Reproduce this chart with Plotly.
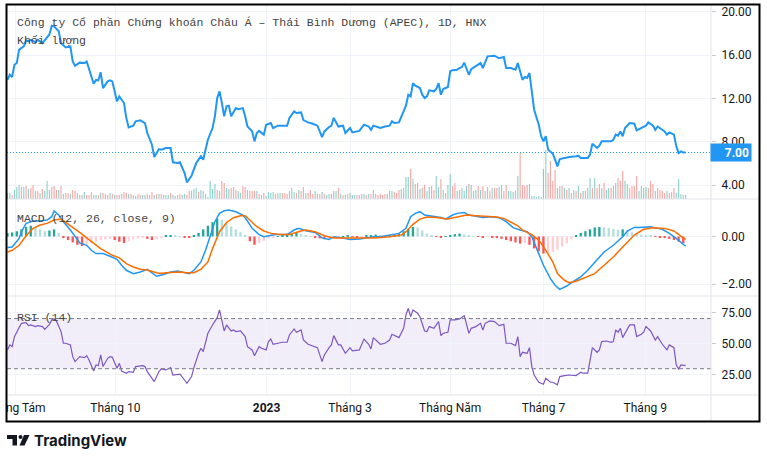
import plotly.graph_objects as go

# ---- values ----
# x positions are trading-session numbers (0 = first bar shown, late July 2022)
title_text = "Công ty Cổ phần Chứng khoán Châu Á – Thái Bình Dương (APEC), 1D, HNX"
volume_label = "Khối lượng"
macd_label = "MACD (12, 26, close, 9)"
rsi_label = "RSI (14)"
brand = "TradingView"

month_sess = [3.5, 46.3, 111.2, 147, 190, 230, 273.7]
month_labels = ["Tháng Tám", "Tháng 10", "<b>2023</b>", "Tháng 3", "Tháng Năm", "Tháng 7", "Tháng 9"]

price_ticks = [4, 8, 12, 16, 20]
macd_ticks = [-2, 0]
rsi_ticks = [25, 50, 75]
rsi_band = [30, 70]

price_sess = [
    0, 1, 2, 3, 4, 5, 7, 8, 9, 10,
    12, 13, 15, 16, 18, 19, 20, 22, 23, 25,
    27, 28, 29, 31, 33, 34, 35, 37, 38, 39,
    40, 41, 43, 44, 45, 47, 48, 50, 51, 52,
    54, 55, 57, 59, 60, 62, 63, 65, 66, 68,
    70, 71, 73, 74, 76, 77, 79, 81, 83, 84,
    85, 86, 88, 89, 90, 91, 92, 93, 94, 95,
    96, 98, 99, 101, 102, 103, 105, 106, 107, 108,
    110, 111, 113, 114, 116, 118, 120, 121, 123, 124,
    126, 127, 129, 131, 133, 135, 136, 138, 139, 140,
    142, 144, 145, 147, 148, 151, 153, 155, 156, 157,
    160, 162, 164, 165, 166, 168, 169, 171, 172, 173,
    174, 175, 177, 178, 179, 180, 181, 183, 184, 185,
    186, 187, 189, 190, 191, 193, 194, 195, 196, 198,
    199, 201, 203, 204, 205, 206, 209, 211, 213, 214,
    216, 218, 219, 221, 222, 223, 224, 225, 226, 228,
    229, 230, 231, 232, 234, 235, 236, 237, 239, 241,
    244, 245, 246, 249, 250, 251, 253, 254, 255, 257,
    259, 260, 261, 262, 263, 264, 265, 267, 269, 270,
    272, 274, 275, 277, 278, 279, 281, 282, 283, 284,
    286, 287, 288, 289, 290, 291,
]
price_close = [
    13.72, 14.18, 13.97, 15.1, 15.26, 16.5, 16.8, 17.35, 17.26, 17.4,
    17.2, 17.4, 17.1, 17.4, 17.9, 18.7, 18.65, 18.2, 17.1, 16.7,
    16.8, 15.4, 15.0, 15.3, 15.26, 15.4, 14.65, 13.35, 13.7, 13.66,
    14.4, 12.95, 13.57, 13.66, 13.57, 11.72, 12.18, 11.57, 10.2, 9.32,
    9.48, 9.88, 9.97, 9.72, 8.8, 7.72, 6.58, 7.32, 7.26, 7.42,
    7.42, 6.1, 6.03, 6.1, 5.1, 4.25, 4.86, 6.03, 6.65, 6.34,
    7.26, 8.18, 9.26, 10.34, 12.03, 12.65, 11.57, 10.34, 11.26, 11.32,
    10.34, 11.1, 11.0, 11.1, 10.34, 9.4, 8.95, 8.03, 8.8, 9.0,
    8.65, 9.57, 9.72, 9.26, 9.48, 9.48, 9.48, 10.2, 10.8, 10.65,
    10.7, 10.0, 9.78, 9.66, 9.48, 8.43, 8.95, 9.35, 9.48, 10.2,
    9.4, 9.48, 8.8, 9.26, 8.86, 9.0, 9.57, 9.4, 9.1, 9.48,
    9.26, 9.4, 9.48, 9.88, 9.72, 9.78, 10.34, 11.32, 12.34, 12.18,
    13.4, 13.17, 12.95, 12.34, 12.03, 12.18, 12.74, 12.65, 12.86, 13.4,
    12.34, 12.86, 13.05, 14.5, 14.6, 14.65, 14.8, 14.9, 15.3, 14.18,
    14.7, 15.0, 15.26, 14.8, 15.4, 15.88, 15.94, 15.7, 15.82, 14.8,
    14.8, 14.65, 15.26, 13.72, 13.97, 13.88, 14.34, 12.5, 10.95, 9.57,
    8.5, 8.03, 8.5, 7.26, 6.9, 6.34, 5.72, 6.4, 6.5, 6.58,
    6.65, 6.7, 6.5, 6.5, 6.8, 7.82, 7.42, 7.63, 8.03, 8.03,
    8.03, 8.18, 8.65, 8.55, 8.95, 8.5, 9.26, 9.72, 9.66, 9.05,
    9.26, 9.48, 9.78, 9.48, 9.1, 9.4, 9.1, 8.95, 8.65, 8.86,
    8.65, 7.57, 6.95, 7.1, 7.0, 7.0,
]

# one volume bar per session (relative units), with up/down colouring
vol = [
    6, 6, 4, 9, 12, 14, 12, 12, 13, 10,
    11, 14, 8, 8, 6, 10, 8, 18, 9, 12,
    13, 9, 9, 13, 5, 6, 6, 5, 9, 8,
    6, 4, 4, 7, 4, 4, 7, 4, 4, 4,
    6, 6, 5, 4, 6, 5, 4, 4, 4, 5,
    7, 6, 5, 5, 4, 3, 5, 4, 4, 4,
    5, 4, 7, 4, 5, 5, 5, 4, 4, 4,
    6, 4, 3, 4, 5, 4, 5, 4, 8, 8,
    10, 11, 7, 9, 8, 5, 2, 18, 10, 15,
    9, 8, 18, 16, 11, 10, 11, 12, 9, 8,
    6, 13, 12, 9, 8, 8, 8, 8, 5, 4,
    6, 3, 7, 6, 7, 5, 6, 6, 6, 6,
    5, 8, 11, 7, 6, 9, 8, 12, 6, 6,
    9, 5, 8, 5, 5, 7, 5, 4, 5, 5,
    8, 8, 11, 5, 4, 4, 5, 6,
    4, 4, 4, 4, 5, 5, 4, 5, 5, 9,
    5, 4, 5, 4, 5, 5, 8, 8, 7, 6,
    9, 10, 11, 22, 22, 30, 20, 15, 16, 10,
    11, 14, 8, 12, 13, 9, 23, 12, 20, 9,
    6, 14, 25, 13, 16, 8, 9, 11, 8, 13,
    15, 14, 8, 9, 13, 9, 13, 8, 12, 8,
    11, 11, 11, 12, 14, 8, 14, 8, 8, 7,
    8, 23, 46, 14, 13, 14, 15, 3, 3, 2,
    3, 2, 30, 49, 26, 38, 18, 29, 11, 13,
    13, 11, 9, 11, 6, 9, 8, 13, 6, 8,
    8, 11, 21, 11, 21, 11, 15, 11, 16, 9,
    11, 11, 13, 16, 21, 18, 28, 18, 15, 11,
    13, 13, 23, 8, 13, 11, 12, 11, 18, 15,
    8, 11, 9, 8, 6, 8, 6, 7, 11, 6,
    20, 5, 4, 4,
]
vol_dir = (
    "uuduu ududu ddudu duuud ddudu ddudd uduud dduud udddu duddu "
    "ddudu udduu dddud udduu duudd uuddu uuduu uuuuu duddu udddu "
    "uddud ddudu duuuu duudd duuud uddud ddudd uduud uudud udu "
    "uuddu ududu ddddd uuudd duuuu duddu dduud duudu duudd uduuu "
    "duuud ududd udduu dduuu duddd duuuu uuuud ddduu dudud ududu "
    "duudu ddudu uduud dduud ddduu uuddd udddd udddu uuuu"
).replace(" ", "")

macd_sess = [
    0, 2, 5, 6, 8, 11, 14, 17, 19, 20,
    22, 24, 27, 29, 31, 34, 36, 38, 41, 44,
    47, 49, 51, 54, 57, 60, 62, 64, 67, 70,
    73, 75, 78, 80, 83, 85, 87, 89, 91, 93,
    95, 98, 101, 103, 105, 108, 110, 112, 115, 118,
    120, 123, 125, 128, 132, 135, 138, 140, 144, 147,
    151, 154, 157, 160, 164, 168, 171, 173, 175, 177,
    179, 183, 186, 188, 191, 193, 196, 198, 201, 204,
    208, 211, 214, 217, 220, 223, 225, 227, 230, 233,
    235, 237, 240, 243, 246, 249, 253, 256, 260, 264,
    266, 269, 271, 274, 276, 279, 281, 284, 287, 291,
]
macd_line = [
    -0.46, -0.44, -0.08, 0.20, 0.55, 0.65, 0.65, 0.69, 0.83, 1.07,
    0.90, 0.62, 0.27, -0.01, -0.27, -0.37, -0.58, -0.72, -0.72, -0.83,
    -0.96, -1.21, -1.42, -1.56, -1.49, -1.38, -1.52, -1.67, -1.60, -1.49,
    -1.45, -1.49, -1.56, -1.42, -1.07, -0.58, 0.06, 0.62, 0.97, 1.08,
    1.11, 1.04, 0.90, 0.65, 0.34, 0.08, -0.01, 0.03, 0.08, 0.08,
    0.08, 0.27, 0.34, 0.24, 0.17, -0.06, -0.13, -0.01, -0.06, -0.13,
    -0.11, -0.06, -0.01, -0.01, 0.06, 0.13, 0.34, 0.83, 0.97, 1.04,
    0.90, 0.83, 0.80, 0.73, 0.90, 0.97, 1.01, 0.90, 0.86, 0.80,
    0.83, 0.79, 0.62, 0.37, 0.27, 0.20, -0.01, -0.51, -1.21, -1.77,
    -2.05, -2.22, -2.08, -1.88, -1.70, -1.42, -1.00, -0.65, -0.37, -0.01,
    0.23, 0.38, 0.38, 0.38, 0.41, 0.34, 0.30, 0.13, -0.08, -0.41,
]
signal_sess = [
    0, 2, 5, 8, 11, 14, 17, 20, 23, 25,
    28, 31, 34, 37, 40, 43, 45, 48, 51, 54,
    57, 60, 63, 65, 68, 71, 74, 77, 80, 83,
    86, 88, 91, 94, 97, 100, 102, 104, 107, 110,
    113, 117, 121, 126, 128, 132, 136, 140, 144, 148,
    153, 157, 160, 164, 169, 171, 174, 177, 180, 184,
    189, 193, 197, 201, 206, 210, 213, 216, 219, 221,
    225, 228, 231, 234, 236, 239, 241, 244, 247, 252,
    256, 260, 264, 269, 273, 277, 282, 286, 291,
]
signal_line = [
    -0.65, -0.58, -0.37, 0.03, 0.34, 0.48, 0.55, 0.69, 0.73, 0.59,
    0.41, 0.17, -0.06, -0.30, -0.51, -0.68, -0.79, -0.90, -1.14, -1.28,
    -1.38, -1.41, -1.49, -1.55, -1.52, -1.49, -1.49, -1.52, -1.52, -1.38,
    -1.07, -0.51, 0.20, 0.59, 0.79, 0.87, 0.87, 0.69, 0.41, 0.23,
    0.13, 0.08, 0.08, 0.23, 0.27, 0.20, 0.03, -0.06, -0.06, -0.08,
    -0.06, -0.06, -0.04, -0.01, 0.06, 0.20, 0.51, 0.73, 0.82, 0.80,
    0.73, 0.83, 0.90, 0.87, 0.84, 0.82, 0.76, 0.62, 0.45, 0.27,
    0.08, -0.15, -0.58, -1.07, -1.56, -1.84, -1.94, -1.88, -1.77, -1.56,
    -1.21, -0.86, -0.44, 0.06, 0.30, 0.37, 0.34, 0.23, -0.13,
]
# histogram read every second session
hist_sess = list(range(0, 292, 2))
macd_hist = [
    0.15, 0.17, 0.22, 0.30, 0.40, 0.45, 0.40, 0.30, 0.22, 0.25,
    0.30, 0.15, -0.05, -0.15, -0.25, -0.35, -0.40, -0.32, -0.28, -0.22,
    -0.15, -0.12, -0.10, -0.15, -0.22, -0.28, -0.20, -0.12, -0.08, -0.05,
    -0.10, -0.15, -0.12, -0.06, 0.03, 0.06, 0.04, 0.02, -0.03, -0.06,
    0.05, 0.15, 0.30, 0.45, 0.60, 0.75, 0.70, 0.55, 0.42, 0.30,
    0.18, 0.05, -0.20, -0.35, -0.28, -0.18, -0.08, -0.03, 0.02, 0.03,
    0.05, 0.10, 0.15, 0.10, 0.06, 0.02, -0.03, -0.08, -0.12, -0.08,
    -0.05, -0.02, 0.02, 0.03, -0.02, -0.04, -0.03, 0.03, 0.06, 0.08,
    0.05, 0.04, 0.06, 0.08, 0.12, 0.22, 0.32, 0.40, 0.38, 0.25,
    0.12, 0.05, -0.02, -0.03, 0.02, 0.06, 0.10, 0.12, 0.08, 0.04,
    0.02, -0.02, -0.03, -0.02, -0.04, -0.05, -0.10, -0.15, -0.20, -0.25,
    -0.30, -0.28, -0.35, -0.50, -0.62, -0.72, -0.70, -0.65, -0.55, -0.42,
    -0.28, -0.12, 0.05, 0.15, 0.22, 0.30, 0.38, 0.40, 0.38, 0.35,
    0.32, 0.28, 0.30, 0.25, 0.18, 0.10, 0.08, 0.05, 0.03, -0.02,
    -0.05, -0.06, -0.10, -0.15, -0.22, -0.28,
]

rsi_sess = [
    0, 1, 2, 3, 5, 6, 8, 9, 10, 12,
    13, 15, 16, 18, 19, 20, 21, 23, 24, 25,
    27, 28, 29, 31, 33, 34, 35, 37, 38, 39,
    40, 41, 43, 44, 45, 47, 48, 49, 51, 52,
    54, 55, 58, 59, 60, 62, 63, 65, 66, 68,
    70, 71, 73, 74, 76, 77, 79, 80, 82, 83,
    84, 85, 86, 88, 90, 91, 92, 93, 94, 96,
    97, 98, 100, 102, 103, 105, 106, 108, 109, 111,
    112, 113, 114, 116, 118, 120, 121, 123, 124, 126,
    127, 129, 131, 133, 135, 136, 138, 139, 140, 142,
    143, 145, 147, 148, 151, 153, 155, 156, 157, 160,
    162, 164, 165, 167, 168, 170, 171, 172, 173, 174,
    176, 177, 179, 180, 181, 183, 185, 186, 187, 189,
    190, 192, 194, 196, 198, 199, 201, 203, 204, 205,
    207, 209, 211, 213, 214, 216, 218, 219, 220, 221,
    223, 224, 225, 226, 228, 230, 231, 233, 234, 236,
    237, 239, 241, 244, 246, 247, 249, 251, 253, 254,
    255, 257, 259, 260, 261, 262, 263, 264, 266, 267,
    269, 270, 272, 273, 274, 276, 278, 279, 281, 282,
    283, 284, 286, 287, 288, 289, 291,
]
rsi_val = [
    45.0, 49.0, 47.6, 55.6, 62.8, 66.2, 66.8, 64.4, 64.9, 63.6,
    64.4, 63.6, 61.4, 65.4, 68.9, 69.7, 68.1, 59.6, 50.3, 50.3,
    49.0, 39.6, 35.7, 39.6, 38.8, 40.4, 37.0, 28.2, 33.0, 32.5,
    41.0, 31.7, 38.3, 39.6, 39.1, 30.3, 34.3, 28.2, 26.4, 27.7,
    27.2, 31.7, 32.5, 31.7, 27.7, 22.4, 19.7, 27.7, 29.8, 29.0,
    30.9, 25.0, 25.6, 25.6, 21.0, 18.4, 23.7, 30.9, 42.3, 46.3,
    43.6, 51.6, 58.3, 64.9, 70.7, 76.9, 67.6, 60.1, 64.9, 60.1,
    60.9, 59.6, 60.1, 55.6, 47.6, 45.0, 40.4, 47.6, 46.3, 45.0,
    51.6, 53.7, 49.5, 50.3, 51.1, 51.1, 56.9, 61.7, 59.1, 60.9,
    52.9, 49.5, 48.4, 46.8, 35.7, 41.0, 46.8, 49.0, 56.4, 49.0,
    49.0, 42.3, 46.8, 44.2, 45.0, 53.7, 49.5, 45.8, 54.8, 49.5,
    50.3, 52.9, 57.5, 55.6, 54.8, 62.2, 72.9, 78.2, 71.5, 76.9,
    74.2, 71.5, 60.1, 59.6, 63.6, 62.2, 67.6, 56.4, 58.3, 59.1,
    68.9, 68.9, 69.7, 72.3, 58.3, 62.2, 63.6, 66.2, 60.9, 66.2,
    68.1, 67.6, 64.4, 65.4, 50.3, 50.3, 48.4, 55.6, 39.6, 43.1,
    42.3, 46.8, 31.7, 25.0, 19.2, 17.6, 22.4, 19.2, 19.2, 17.1,
    23.7, 24.5, 25.0, 24.5, 27.2, 26.4, 26.4, 46.8, 43.1, 45.0,
    51.6, 52.1, 51.1, 51.6, 60.9, 59.1, 62.2, 54.8, 62.2, 64.9,
    64.9, 55.6, 57.5, 59.1, 63.6, 60.1, 52.9, 55.6, 49.5, 47.6,
    45.0, 49.0, 46.8, 33.0, 29.8, 33.0, 32.5,
]

# ---- layout helpers (pixel positions of the TradingView pane) ----
PL, PR, PT, PB = 7, 711, 5, 395


def px_x(px):
    return (px - PL) / (PR - PL)


def px_y(py):
    return (PB - py) / (PB - PT)


BLUE = "#2196f3"
GRID = "#f0f3fa"
SEP = "#e0e3eb"
TEXT = "#131722"
MONO = "Liberation Mono"

vol_colors = ["rgba(38,166,154,0.5)" if d == "u" else "rgba(239,83,80,0.5)" for d in vol_dir]
hist_colors = []
for i, h in enumerate(macd_hist):
    prev = macd_hist[i - 1] if i else h
    if h >= 0:
        hist_colors.append("#26a69a" if h >= prev else "#b2dfdb")
    else:
        hist_colors.append("#ff5252" if h <= prev else "#ffcdd2")

last_price = price_close[-1]

fig = go.Figure()
fig.add_trace(go.Bar(x=list(range(len(vol))), y=vol, marker_color=vol_colors,
                     marker_line_width=0, width=0.5, yaxis="y"))
fig.add_trace(go.Scatter(x=price_sess, y=price_close, mode="lines",
                         line=dict(color=BLUE, width=2), yaxis="y4"))
fig.add_trace(go.Bar(x=hist_sess, y=macd_hist, marker_color=hist_colors,
                     marker_line_width=0, width=1.0, yaxis="y2"))
fig.add_trace(go.Scatter(x=macd_sess, y=macd_line, mode="lines",
                         line=dict(color=BLUE, width=1.5), yaxis="y2"))
fig.add_trace(go.Scatter(x=signal_sess, y=signal_line, mode="lines",
                         line=dict(color="#ff6d00", width=1.5), yaxis="y2"))
fig.add_trace(go.Scatter(x=rsi_sess, y=rsi_val, mode="lines",
                         line=dict(color="#7e57c2", width=1.2), yaxis="y3"))

yax = dict(side="right", anchor="x", showgrid=True, gridcolor=GRID, gridwidth=1,
           zeroline=False, showline=False, ticks="outside", ticklen=4, automargin=False,
           tickcolor="#c9ccd3", tickformat=".2f", ticklabelstandoff=3,
           tickfont=dict(family="Roboto", size=12, color=TEXT))

d_rsi = px_y(296)
d_macd = px_y(199)

fig.update_layout(
    width=767, height=459,
    margin=dict(l=PL, r=767 - PR, t=PT, b=459 - PB, autoexpand=False),
    paper_bgcolor="white", plot_bgcolor="white",
    showlegend=False, barmode="overlay",
    font=dict(family="Roboto", size=12, color=TEXT),
    xaxis=dict(domain=[0, 1], anchor="y3", range=[-0.2, 301.9], automargin=False,
               tickvals=month_sess, ticktext=month_labels,
               showgrid=True, gridcolor=GRID, zeroline=False, showline=False,
               ticks="", ticklabeloverflow="allow", ticklabelstandoff=4,
               tickfont=dict(family="Roboto", size=12, color=TEXT)),
    yaxis=dict(domain=[d_macd, 1], range=[0, 194], visible=False, automargin=False),
    yaxis4=dict(yax, overlaying="y", range=[2.71, 20.62], tickvals=price_ticks),
    yaxis2=dict(yax, domain=[d_rsi, d_macd], range=[-2.5, 1.574], tickvals=macd_ticks),
    yaxis3=dict(yax, domain=[0, d_rsi], range=[9.03, 88.0], tickvals=rsi_ticks),
)

shapes = [
    dict(type="rect", xref="paper", yref="y3", x0=0, x1=1, y0=rsi_band[0], y1=rsi_band[1],
         fillcolor="rgba(126,87,194,0.1)", line_width=0, layer="below"),
]
for lvl in rsi_band:
    shapes.append(dict(type="line", xref="paper", yref="y3", x0=0, x1=1, y0=lvl, y1=lvl,
                       line=dict(color="#787b86", width=1, dash="4px,3px")))
shapes.append(dict(type="line", xref="paper", yref="y4", x0=0, x1=1, y0=last_price, y1=last_price,
                   line=dict(color=BLUE, width=1, dash="1px,2px")))
for py in (199, 296, 395):
    shapes.append(dict(type="line", xref="paper", yref="paper", x0=px_x(7), x1=px_x(759),
                       y0=px_y(py), y1=px_y(py), line=dict(color=SEP, width=1), layer="above"))
shapes.append(dict(type="line", xref="paper", yref="paper", x0=1, x1=1,
                   y0=px_y(421.5), y1=px_y(4.5), line=dict(color=SEP, width=1), layer="above"))
# hide the part of the first month label that falls outside the pane
shapes.append(dict(type="rect", xref="paper", yref="paper", x0=px_x(-2), x1=px_x(6),
                   y0=px_y(421), y1=px_y(396), fillcolor="white", line_width=0, layer="above"))
# outer frame
shapes.append(dict(type="rect", xref="paper", yref="paper", x0=px_x(6.5), x1=px_x(759.5),
                   y0=px_y(421.5), y1=px_y(4.5), line=dict(color="#000000", width=2),
                   fillcolor="rgba(0,0,0,0)", layer="above"))
# TradingView logo mark
shapes += [
    dict(type="rect", xref="paper", yref="paper", x0=px_x(7), x1=px_x(17), y0=px_y(439),
         y1=px_y(435), fillcolor=TEXT, line_width=0),
    dict(type="rect", xref="paper", yref="paper", x0=px_x(12.5), x1=px_x(17), y0=px_y(445.5),
         y1=px_y(435), fillcolor=TEXT, line_width=0),
    dict(type="circle", xref="paper", yref="paper", x0=px_x(18.5), x1=px_x(22.5), y0=px_y(439),
         y1=px_y(435), fillcolor=TEXT, line_width=0),
    dict(type="path", xref="paper", yref="paper", fillcolor=TEXT, line_width=0,
         path="M {} {} L {} {} L {} {} L {} {} Z".format(
             px_x(24), px_y(435), px_x(29.5), px_y(435),
             px_x(24.5), px_y(445.5), px_x(19.5), px_y(445.5))),
]
fig.update_layout(shapes=shapes)

ann = [
    dict(text=title_text, x=px_x(15), y=px_y(23)),
    dict(text=volume_label, x=px_x(15), y=px_y(40)),
    dict(text=macd_label, x=px_x(15), y=px_y(218.5)),
    dict(text=rsi_label, x=px_x(15), y=px_y(317)),
]
for a in ann:
    a.update(xref="paper", yref="paper", xanchor="left", yanchor="middle", showarrow=False,
             font=dict(family=MONO, size=11.5, color="#444444"))
ann.append(dict(text="<b>{:.2f}</b>".format(last_price), xref="paper", yref="y4", x=px_x(710),
                y=last_price, xanchor="left", yanchor="middle", showarrow=False, bgcolor=BLUE,
                width=36, height=13, borderpad=2, align="right",
                font=dict(family="Roboto", size=12, color="white")))
ann.append(dict(text="<b>" + brand + "</b>", xref="paper", yref="paper", x=px_x(32), y=px_y(440),
                xanchor="left", yanchor="middle", showarrow=False,
                font=dict(family="Inter", size=15, color=TEXT)))
fig.update_layout(annotations=ann)

# the page's default body margin would shift the whole figure by 8px
fig.write_html("out.html", config={"displayModeBar": False},
               post_script="document.body.style.margin='0';document.body.style.overflow='hidden';")
